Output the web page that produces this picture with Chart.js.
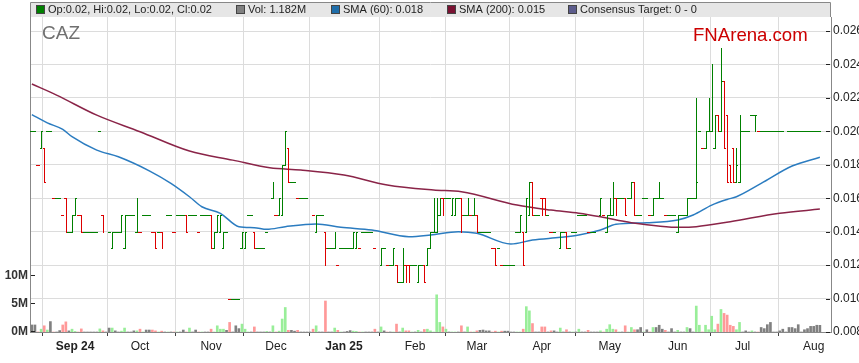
<!DOCTYPE html>
<html>
<head>
<meta charset="utf-8">
<script src="https://cdn.jsdelivr.net/npm/chart.js@4.4.1/dist/chart.umd.min.js"></script>
<style>
  html, body { margin: 0; padding: 0; background: #fff; }
  #wrap { width: 859px; height: 363px; position: relative; }
</style>
</head>
<body>
<div id="wrap"><canvas id="c"></canvas></div>
<script>
// one entry per weekday, Aug 13 2024 .. Aug 5 2025 (index = trading day)
const open = [
  .020,.020,.018,.019,.019,.020,.020,.016,.016,.016,
  .015,.016,.014,.014,.015,.015,.015,.014,.014,.014,
  .014,.014,.020,.015,null,.014,.013,.014,.014,.014,
  .013,.015,.015,.015,.014,.014,.015,.015,.015,.014,
  .014,.014,.014,null,.015,.015,.014,.015,.015,.015,
  .015,.015,.015,.015,.014,.015,.015,.015,.015,.013,
  .014,.014,.013,.014,.010,.010,.010,.010,.013,.013,
  .015,.015,.014,.013,.013,.013,.014,null,.016,.015,
  .015,.015,.018,.019,.017,.017,.016,.016,.016,.016,
  null,.015,.014,.015,.015,.014,.013,.013,.013,.012,
  .013,.013,.013,.013,.013,.013,.013,.014,.014,.014,
  .014,.013,null,.012,.013,.012,.012,.012,.012,.011,
  .011,.012,.012,.012,.012,.011,.012,.012,.012,.013,
  .014,.014,.015,.016,.016,.016,.015,.015,.016,.016,
  .015,.015,.015,.015,.015,.014,.014,.014,.014,.013,
  .013,.013,.012,.012,.012,.012,.012,.014,.014,.014,
  .014,.015,.017,.015,.015,.016,.016,.015,.014,.014,
  null,.013,.014,.014,.013,.014,.014,.015,.015,.015,
  .014,.014,.014,null,.015,.015,.014,.015,.015,.016,
  .016,.016,.016,.016,.016,.017,.015,.015,.016,.016,
  .015,.015,.016,.016,.016,.015,.015,.015,.015,.014,
  .015,.015,.015,.016,.016,.016,.020,.019,.019,.020,
  .020,.019,.021,.020,.023,.021,.018,.019,.017,.017,
  .020,.020,.020,.021,.021,.020,.020,.020,.020,.020,
  .020,.020,.020,.020,null,.020,.020,.020,.020,.020,
  .020,.020,.020,.020,.020,.020
];
const high = [
  .020,.020,.018,.020,.019,.020,.020,.016,.016,.016,
  .015,.016,.014,.015,.016,.015,.015,.014,.014,.014,
  .014,.014,.020,.015,null,.014,.014,.014,.014,.015,
  .015,.015,.015,.015,.016,.014,.015,.015,.015,.014,
  .014,.014,.014,null,.015,.015,.014,.015,.015,.015,
  .015,.015,.015,.015,.014,.015,.015,.015,.015,.014,
  .015,.015,.014,.014,.010,.010,.010,.010,.014,.014,
  .015,.015,.014,.013,.013,.013,.014,null,.017,.015,
  .016,.018,.020,.019,.017,.017,.016,.016,.016,.016,
  null,.015,.015,.015,.015,.014,.013,.013,.014,.012,
  .013,.013,.013,.013,.014,.014,.013,.014,.014,.014,
  .014,.013,null,.013,.013,.012,.012,.013,.012,.011,
  .013,.012,.012,.012,.012,.012,.012,.012,.013,.014,
  .016,.016,.016,.016,.016,.016,.016,.016,.016,.016,
  .015,.016,.015,.016,.015,.014,.014,.014,.014,.013,
  .013,.013,.012,.012,.012,.012,.012,.014,.015,.014,
  .016,.017,.017,.015,.015,.016,.016,.015,.014,.014,
  null,.014,.014,.014,.013,.014,.014,.015,.015,.015,
  .014,.014,.014,null,.016,.015,.015,.016,.017,.016,
  .016,.016,.016,.016,.017,.017,.015,.015,.016,.016,
  .015,.016,.016,.017,.016,.015,.015,.015,.015,.015,
  .015,.015,.016,.016,.016,.022,.020,.019,.020,.022,
  .024,.021,.021,.025,.023,.021,.018,.019,.019,.021,
  .020,.020,.020,.021,.021,.020,.020,.020,.020,.020,
  .020,.020,.020,.020,null,.020,.020,.020,.020,.020,
  .020,.020,.020,.020,.020,.020
];
const low = [
  .020,.020,.018,.019,.017,.020,.020,.016,.016,.016,
  .015,.014,.014,.014,.015,.015,.014,.014,.014,.014,
  .014,.014,.020,.014,null,.014,.013,.014,.014,.014,
  .013,.015,.015,.015,.014,.014,.015,.015,.015,.014,
  .013,.014,.013,null,.015,.015,.014,.015,.015,.015,
  .014,.015,.015,.015,.014,.015,.015,.015,.013,.013,
  .014,.014,.013,.014,.010,.010,.010,.010,.013,.013,
  .015,.015,.013,.013,.013,.013,.014,null,.016,.015,
  .015,.015,.018,.017,.017,.017,.016,.016,.016,.016,
  null,.015,.014,.015,.015,.012,.013,.013,.013,.012,
  .013,.013,.013,.013,.013,.013,.013,.014,.014,.014,
  .014,.013,null,.012,.013,.012,.012,.012,.011,.011,
  .011,.011,.011,.012,.012,.011,.012,.011,.012,.013,
  .014,.014,.015,.015,.016,.016,.015,.015,.016,.014,
  .015,.015,.015,.015,.014,.014,.014,.014,.014,.013,
  .012,.013,.012,.012,.012,.012,.012,.014,.014,.012,
  .014,.015,.015,.015,.015,.015,.015,.015,.014,.014,
  null,.013,.014,.013,.013,.014,.014,.015,.015,.015,
  .014,.014,.014,null,.015,.015,.014,.015,.015,.015,
  .016,.016,.015,.016,.016,.015,.015,.015,.016,.016,
  .015,.015,.016,.016,.016,.015,.015,.015,.015,.014,
  .015,.015,.015,.016,.016,.016,.020,.019,.019,.020,
  .020,.019,.020,.020,.019,.017,.017,.017,.017,.017,
  .020,.020,.020,.021,.020,.020,.020,.020,.020,.020,
  .020,.020,.020,.020,null,.020,.020,.020,.020,.020,
  .020,.020,.020,.020,.020,.020
];
const close = [
  .020,.020,.018,.020,.017,.020,.020,.016,.016,.016,
  .015,.014,.014,.015,.016,.015,.014,.014,.014,.014,
  .014,.014,.020,.014,null,.014,.014,.014,.014,.015,
  .015,.015,.015,.015,.016,.014,.015,.015,.015,.014,
  .013,.014,.013,null,.015,.015,.014,.015,.015,.015,
  .014,.015,.015,.015,.014,.015,.015,.015,.013,.014,
  .015,.015,.014,.014,.010,.010,.010,.010,.014,.014,
  .015,.015,.013,.013,.013,.013,.014,null,.017,.015,
  .016,.018,.020,.017,.017,.017,.016,.016,.016,.016,
  null,.015,.015,.015,.015,.013,.013,.013,.014,.012,
  .013,.013,.013,.013,.014,.014,.013,.014,.014,.014,
  .014,.013,null,.013,.013,.012,.012,.013,.011,.011,
  .012,.011,.011,.012,.012,.012,.012,.011,.013,.014,
  .016,.016,.016,.015,.016,.016,.016,.016,.016,.015,
  .015,.016,.015,.016,.014,.014,.014,.014,.014,.013,
  .012,.013,.012,.012,.012,.012,.012,.014,.015,.012,
  .016,.017,.015,.015,.015,.015,.015,.015,.014,.014,
  null,.014,.014,.013,.013,.014,.014,.015,.015,.015,
  .014,.014,.014,null,.016,.015,.015,.016,.016,.015,
  .016,.016,.015,.016,.017,.015,.015,.015,.016,.016,
  .015,.016,.016,.016,.016,.015,.015,.015,.015,.015,
  .015,.015,.016,.016,.016,.017,.020,.019,.020,.022,
  .021,.021,.020,.023,.019,.017,.017,.017,.018,.020,
  .020,.020,.020,.021,.021,.020,.020,.020,.020,.020,
  .020,.020,.020,.020,null,.020,.020,.020,.020,.020,
  .020,.020,.020,.020,.020,.020
];
// volume in millions of shares
const volume = [
  1.25,1.25,0,0.5,1.1,0.35,1.85,0,0,0.25,
  1.25,1.8,0.2,0.5,0.1,0,0.55,0,0,0,
  0,0,0.55,0.2,0,0.7,0.7,0.2,0,0.15,
  0.7,0,0,0.2,0.2,0.5,0,0.35,0.35,0.35,
  0.2,0,0.15,0,0,0,0,0,0,0.35,
  0,0.7,0,0.35,0,0,0,0,0.5,0,
  1.1,0.5,0.5,0.3,1.7,0,1.1,0.6,1.4,0.5,
  0,0,0.9,0,0,0,0.1,0,1.1,0,
  0.15,2.3,4.35,0.3,0.3,0.15,0.3,0,0,0,
  0,0.5,1.1,0,0,5.5,0,0,0.7,0.3,
  0,0,0.1,0.25,0.15,0.1,0,0,0,0,
  0,0.5,0,0.9,0.2,0,0,0,1.4,0,
  0.7,0.2,0.2,0,0,0.3,0,0.45,0.5,0.2,
  0,6.6,1.7,0.9,0.5,0,0,0,0,1.1,
  0,0.9,0,0,0.2,0.3,0.35,0.2,0.2,0,
  0.15,0,0.15,0.15,0.15,0,0,0,0,0.5,
  4.5,3.75,1.5,0,0,0.9,0.9,0,0.2,0.2,
  0,0.7,0,0.4,0,0,0,0.5,0,0,
  0.3,0,0,0,0.2,0,0.5,1.3,0.5,0.4,
  0,0,1.1,0,0.8,0.4,0.4,0.8,0,0.4,
  0,0.8,0.8,1.2,0.5,0.3,0,0.6,0,0.3,
  0,0,0.8,0.6,0,4.6,1.2,0,1.2,0.4,
  2.8,0.4,1.4,4.0,3.3,3.0,1.2,1.0,0.4,1.7,
  0,0.2,0,0.2,0,0,0.8,0.6,1.3,1.7,
  0,0,0.2,0.5,0,0.8,0.8,0.6,1.3,0,
  0.4,0.6,1.0,1.0,1.2,1.18
];

// moving averages at these trading-day positions
const sma60Day = [0,5,10,13,21,28,38,45,51,55,61,67,72,76,82,92,100,110,122,129,138,144,155,162,171,177,184,189,199,209,214,220,225,228,236,246,255];
const sma60 = [.0210,.02051,.02012,.01968,.01888,.01848,.01764,.01689,.01609,.01549,.0151,.0143,.01424,.01414,.0143,.01446,.01426,.0141,.0137,.0138,.0140,.0139,.01326,.0135,.01366,.0138,.0141,.01444,.01454,.0147,.0150,.01559,.01593,.01609,.01689,.01793,.01845];
const sma200Day = [0,8,21,35,51,65,77,87,101,115,130,139,157,168,177,184,194,210,215,226,242,255];
const sma200 = [.02283,.02217,.02097,.01998,.01882,.01828,.01782,.01769,.01739,.01679,.01649,.01639,.01559,.01529,.0151,.01489,.01454,.01426,.0143,.0146,.0151,.01535];

// axis ticks
const monthDay = [14,35,58,79,101,124,144,165,187,209,230,253];
const monthLabels = ['Sep 24','Oct','Nov','Dec','Jan 25','Feb','Mar','Apr','May','Jun','Jul','Aug'];
const priceTicks = [0.008,0.010,0.012,0.014,0.016,0.018,0.020,0.022,0.024,0.026];
const volTicks = [0,5,10];

const legendLabels = ['Op:0.02, Hi:0.02, Lo:0.02, Cl:0.02','Vol: 1.182M','SMA (60): 0.018','SMA (200): 0.015','Consensus Target: 0 - 0'];
const legendColors = ['#008000','#808080','#1f6eaa','#7a1232','#5c5c8c'];
const legendX = [36,236,331,447,568];

const UP = '#008000', DOWN = '#dd0000';
const FONT = "'Liberation Sans', Arial, sans-serif";
Chart.defaults.font.family = FONT;

// bar direction: close vs open, or vs previous close on a flat day (0 = unchanged)
const direction = [];
let last = null;
close.forEach((c, i) => {
  let d = 0;
  if (c !== null) {
    if (c > open[i]) d = 1;
    else if (c < open[i]) d = -1;
    else if (last !== null) d = c > last ? 1 : (c < last ? -1 : 0);
    last = c;
  }
  direction.push(d);
});
const volColors = direction.map(d => d > 0 ? '#99ee99' : (d < 0 ? '#ff9999' : '#808080'));

const ohlcPlugin = {
  id: 'ohlc',
  afterDatasetsDraw(chart) {
    const {ctx, scales: {x, y}} = chart;
    ctx.save();
    for (let i = 0; i < close.length; i++) {
      if (close[i] === null) continue;
      ctx.fillStyle = direction[i] < 0 ? DOWN : UP;
      const px = x.getPixelForValue(i);
      const xc = Math.round(px);
      const xl = Math.round(px - 1.55);
      const xr = Math.round(px + 1.55);
      const yh = Math.round(y.getPixelForValue(high[i]));
      const yl = Math.round(y.getPixelForValue(low[i]));
      const yo = Math.round(y.getPixelForValue(open[i]));
      const yc = Math.round(y.getPixelForValue(close[i]));
      ctx.fillRect(xc, yh, 1, yl - yh + 1);
      ctx.fillRect(xl, yo, xc - xl + 1, 1);
      ctx.fillRect(xc, yc, xr - xc, 1);
    }
    ctx.restore();
  }
};

const framePlugin = {
  id: 'frame',
  afterDraw(chart) {
    const {ctx, chartArea: a, scales} = chart;
    ctx.save();
    // legend strip on top of the plot box
    ctx.fillStyle = '#e6e6e6';
    ctx.fillRect(a.left, 3, a.right - a.left, a.top - 3);
    ctx.strokeStyle = '#888';
    ctx.lineWidth = 1;
    ctx.beginPath();
    ctx.moveTo(a.left + 0.5, a.top);
    ctx.lineTo(a.left + 0.5, 2.5);
    ctx.lineTo(a.right - 0.5, 2.5);
    ctx.lineTo(a.right - 0.5, a.top);
    ctx.stroke();
    ctx.font = '11px ' + FONT;
    ctx.textBaseline = 'middle';
    legendLabels.forEach((t, i) => {
      ctx.fillStyle = '#444';
      ctx.fillRect(legendX[i], 5, 9, 9);
      ctx.fillStyle = legendColors[i];
      ctx.fillRect(legendX[i] + 1, 6, 7, 7);
      ctx.fillStyle = '#222';
      ctx.fillText(t, legendX[i] + 12, 10);
    });
    // inner tick marks
    ctx.fillStyle = '#222';
    volTicks.forEach(v => {
      const py = Math.round(scales.yv.getPixelForValue(v));
      ctx.fillRect(a.left + 1, py - 1, 4, 1);
    });
    priceTicks.forEach(v => {
      const py = Math.round(scales.y.getPixelForValue(v));
      ctx.fillRect(a.right - 5, py, 4, 1);
    });
    // titles
    ctx.textBaseline = 'alphabetic';
    ctx.fillStyle = '#707070';
    ctx.font = '19px ' + FONT;
    ctx.fillText('CAZ', 42, 39);
    ctx.fillStyle = '#cc0000';
    ctx.font = '18.6px ' + FONT;
    ctx.fillText('FNArena.com', 693, 41);
    ctx.restore();
  }
};

new Chart(document.getElementById('c'), {
  type: 'bar',
  data: {
    datasets: [
      {
        type: 'line',
        label: 'SMA (200)',
        data: sma200Day.map((d, i) => ({x: d, y: sma200[i]})),
        yAxisID: 'y',
        borderColor: '#8a2448',
        borderWidth: 1.5,
        pointRadius: 0,
        cubicInterpolationMode: 'monotone'
      },
      {
        type: 'line',
        label: 'SMA (60)',
        data: sma60Day.map((d, i) => ({x: d, y: sma60[i]})),
        yAxisID: 'y',
        borderColor: '#2b7cc0',
        borderWidth: 1.5,
        pointRadius: 0,
        cubicInterpolationMode: 'monotone'
      },
      {
        type: 'bar',
        label: 'Vol',
        data: volume.map((v, i) => ({x: i, y: v})),
        yAxisID: 'yv',
        backgroundColor: volColors,
        barThickness: 2,
        grouped: false
      }
    ]
  },
  options: {
    responsive: true,
    maintainAspectRatio: false,
    animation: false,
    events: [],
    layout: { padding: { top: 17, left: 0, right: 0, bottom: 0 } },
    plugins: { legend: { display: false }, tooltip: { enabled: false } },
    scales: {
      x: {
        type: 'linear',
        min: -0.6,
        max: 258.6,
        offset: false,
        afterBuildTicks: s => { s.ticks = monthDay.map(v => ({value: v})); },
        afterFit: s => { s.height = 31; },
        ticks: {
          autoSkip: false,
          maxRotation: 0,
          padding: 3,
          color: '#222',
          callback: (v, i) => monthLabels[i],
          font: ctx => ({ size: 12, weight: (ctx.index === 0 || ctx.index === 4) ? 'bold' : 'normal' })
        },
        grid: { color: '#dcdcdc', tickColor: '#444', tickLength: 4 },
        border: { color: '#888' }
      },
      y: {
        position: 'right',
        min: 0.008,
        max: 0.02684,
        afterBuildTicks: s => { s.ticks = priceTicks.map(v => ({value: v})); },
        afterFit: s => { s.width = 28; },
        ticks: { padding: 2, color: '#222', font: { size: 12 }, callback: v => v.toFixed(3) },
        grid: { color: '#dcdcdc', drawTicks: false },
        border: { color: '#888' }
      },
      yv: {
        position: 'left',
        min: 0,
        max: 55.9,
        afterBuildTicks: s => { s.ticks = volTicks.map(v => ({value: v})); },
        afterFit: s => { s.width = 30; },
        ticks: { padding: 2, color: '#333', font: { size: 12, weight: 'bold' }, callback: v => v + 'M' },
        grid: { display: false, drawTicks: false },
        border: { color: '#888' }
      }
    }
  },
  plugins: [ohlcPlugin, framePlugin]
});
</script>
</body>
</html>
